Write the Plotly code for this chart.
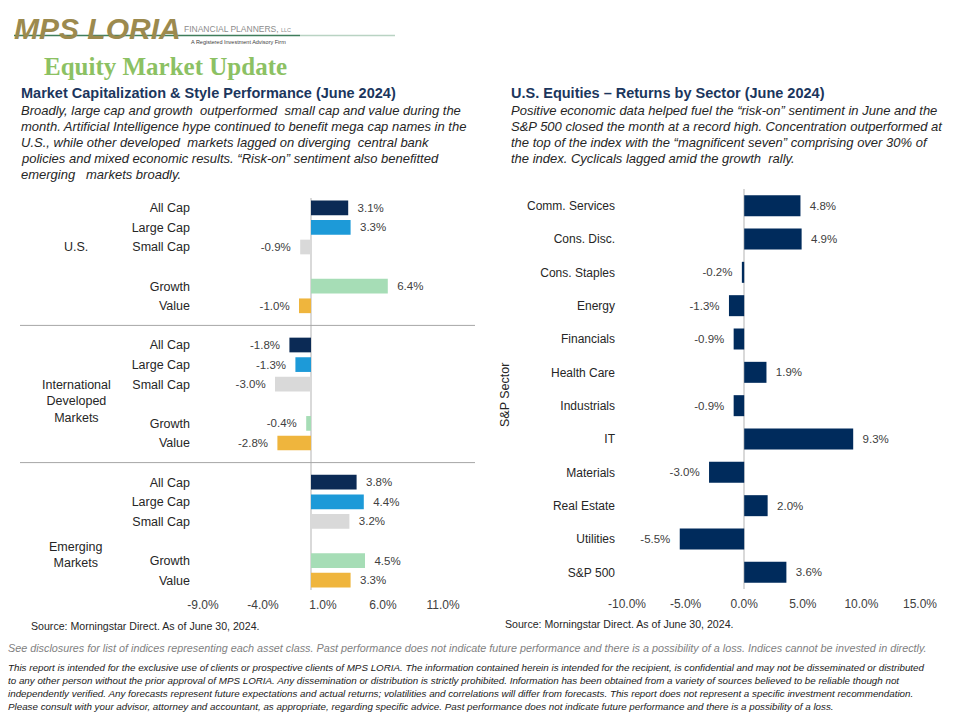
import plotly.graph_objects as go

W, H = 960, 720

# ---------------- Data: left chart ----------------
group_keys = ["US", "INTL", "EM"]
group_labels = ["U.S.", "International<br>Developed<br>Markets", "Emerging<br>Markets"]
styles = ["All Cap", "Large Cap", "Small Cap", "Growth", "Value"]
us_returns = [3.1, 3.3, -0.9, 6.4, -1.0]
intl_returns = [-1.8, -1.3, -3.0, -0.4, -2.8]
em_returns = [3.8, 4.4, 3.2, 4.5, 3.3]
left_ticks = [-9.0, -4.0, 1.0, 6.0, 11.0]

# ---------------- Data: right chart ----------------
sectors = ["Comm. Services", "Cons. Disc.", "Cons. Staples", "Energy", "Financials",
           "Health Care", "Industrials", "IT", "Materials", "Real Estate",
           "Utilities", "S&P 500"]
sector_returns = [4.8, 4.9, -0.2, -1.3, -0.9, 1.9, -0.9, 9.3, -3.0, 2.0, -5.5, 3.6]
right_ticks = [-10.0, -5.0, 0.0, 5.0, 10.0, 15.0]

# ---------------- Styles ----------------
style_colors = {
    "All Cap": "#0B2A55",
    "Large Cap": "#1D9AD8",
    "Small Cap": "#D9D9D9",
    "Growth": "#A6DDB6",
    "Value": "#EFB53D",
}
NAVY = "#002B5C"
HEAD = "#1B365D"
FONT = "Liberation Sans, Arial, sans-serif"


def px(x):
    return x / W


def py(y):
    return 1 - y / H


def lab(v):
    s = f"{v:.1f}%"
    return ("\u00a0\u00a0" + s) if v >= 0 else (s + "\u00a0\u00a0")


# category order for left chart (with blank slots)
cat_order = []
for gi, gk in enumerate(group_keys):
    if gi > 0:
        cat_order.append(f"{gk}|sep")
    for s in styles[:3]:
        cat_order.append(f"{gk}|{s}")
    cat_order.append(f"{gk}|gap")
    for s in styles[3:]:
        cat_order.append(f"{gk}|{s}")
cat_text = ["" if c.endswith("|gap") or c.endswith("|sep") else c.split("|")[1] for c in cat_order]

group_values = {"US": us_returns, "INTL": intl_returns, "EM": em_returns}

fig = go.Figure()

for si, s in enumerate(styles):
    xs = [group_values[gk][si] for gk in group_keys]
    ys = [f"{gk}|{s}" for gk in group_keys]
    fig.add_trace(go.Bar(
        x=xs, y=ys, orientation="h", xaxis="x", yaxis="y",
        marker=dict(color=style_colors[s], line=dict(width=0)),
        width=0.75,
        text=[lab(v) for v in xs], textposition="outside",
        textfont=dict(family=FONT, size=11.5, color="#404040"),
        constraintext="none", cliponaxis=False, hoverinfo="skip",
    ))

fig.add_trace(go.Bar(
    x=sector_returns, y=sectors, orientation="h", xaxis="x2", yaxis="y2",
    marker=dict(color=NAVY, line=dict(width=0)),
    width=0.63,
    text=[lab(v) for v in sector_returns], textposition="outside",
    textfont=dict(family=FONT, size=11.5, color="#404040"),
    constraintext="none", cliponaxis=False, hoverinfo="skip",
))

n_left = len(cat_order)
fig.update_layout(
    template="none",
    width=W, height=H,
    margin=dict(l=0, r=0, t=0, b=0, autoexpand=False),
    paper_bgcolor="white", plot_bgcolor="white",
    showlegend=False, barmode="overlay",
    font=dict(family=FONT, size=12, color="#262626"),
    xaxis=dict(
        domain=[px(203), px(443)], range=[left_ticks[0], left_ticks[-1]],
        tickmode="array", tickvals=left_ticks, ticktext=[f"{t:.1f}%" for t in left_ticks],
        showgrid=False, showline=False, ticks="", automargin=False,
        zeroline=True, zerolinecolor="#D9D9D9", zerolinewidth=1.5,
        tickfont=dict(family=FONT, size=12, color="#404040"),
        ticklabelstandoff=6, anchor="y", fixedrange=True,
    ),
    yaxis=dict(
        domain=[py(590), py(198)], type="category",
        categoryorder="array", categoryarray=cat_order,
        range=[n_left - 0.5, -0.5], automargin=False,
        tickmode="array", tickvals=cat_order, ticktext=cat_text,
        showgrid=False, showline=False, ticks="", zeroline=False,
        tickfont=dict(family=FONT, size=12.5, color="#262626"),
        ticklabelstandoff=12, anchor="x", fixedrange=True,
    ),
    xaxis2=dict(
        domain=[px(627), px(920)], range=[right_ticks[0], right_ticks[-1]],
        tickmode="array", tickvals=right_ticks, ticktext=[f"{t:.1f}%" for t in right_ticks],
        showgrid=False, showline=False, ticks="", automargin=False,
        zeroline=True, zerolinecolor="#D9D9D9", zerolinewidth=1.5,
        tickfont=dict(family=FONT, size=12, color="#404040"),
        ticklabelstandoff=6, anchor="y2", fixedrange=True,
    ),
    yaxis2=dict(
        domain=[py(589), py(189)], type="category",
        categoryorder="array", categoryarray=sectors,
        range=[len(sectors) - 0.5, -0.5], automargin=False,
        showgrid=False, showline=False, ticks="", zeroline=False,
        tickfont=dict(family=FONT, size=12, color="#262626"),
        ticklabelstandoff=11, anchor="x2", fixedrange=True,
    ),
)

# group separators on left chart
for gk in group_keys[1:]:
    idx = cat_order.index(f"{gk}|sep")
    fig.add_shape(type="line", xref="paper", yref="y",
                  x0=px(20), x1=px(475), y0=idx, y1=idx,
                  line=dict(color="#A6A6A6", width=1))

annotations = []

# group labels
group_anchor = {"US": ("US|Small Cap", 0), "INTL": ("INTL|gap", 2.5), "EM": ("EM|gap", -13.5)}
for gk, gl in zip(group_keys, group_labels):
    cat, shift = group_anchor[gk]
    annotations.append(dict(
        x=px(76), xref="paper", y=cat_order.index(cat), yref="y", yshift=shift,
        text=gl, showarrow=False, xanchor="center", yanchor="middle", align="center",
        font=dict(family=FONT, size=12.5, color="#262626"),
    ))

# right y-axis title
annotations.append(dict(
    x=px(505), y=py(395), xref="paper", yref="paper", text="S&P Sector",
    textangle=-90, showarrow=False, xanchor="center", yanchor="middle",
    font=dict(family=FONT, size=12.5, color="#262626"),
))

# logo
annotations.append(dict(
    x=px(12), y=py(29), xref="paper", yref="paper", text="<b><i>MPS LORIA</i></b>",
    showarrow=False, xanchor="left", yanchor="middle",
    font=dict(family=FONT, size=30, color="#9C8A4E"),
))
annotations.append(dict(
    x=px(182), y=py(29), xref="paper", yref="paper",
    text="FINANCIAL PLANNERS, <span style='font-size:5.5px'>LLC</span>",
    showarrow=False, xanchor="left", yanchor="middle",
    font=dict(family=FONT, size=8.5, color="#8C8C8C"),
))
annotations.append(dict(
    x=px(189), y=py(42), xref="paper", yref="paper",
    text="A Registered Investment Advisory Firm",
    showarrow=False, xanchor="left", yanchor="middle",
    font=dict(family=FONT, size=5.5, color="#404040"),
))
fig.add_shape(type="line", xref="paper", yref="paper",
              x0=px(14), x1=px(300), y0=py(35.5), y1=py(35.5),
              line=dict(color="#3F7D5B", width=1.5))
fig.add_shape(type="line", xref="paper", yref="paper",
              x0=px(300), x1=px(395), y0=py(35.5), y1=py(35.5),
              line=dict(color="#B9D3C3", width=1.5))

annotations.append(dict(
    x=px(42), y=py(66), xref="paper", yref="paper", text="<b>Equity Market Update</b>",
    showarrow=False, xanchor="left", yanchor="middle",
    font=dict(family="Liberation Serif, Times New Roman, serif", size=25, color="#8CC163"),
))

# headings
annotations.append(dict(
    x=px(19), y=py(93), xref="paper", yref="paper",
    text="<b>Market Capitalization & Style Performance (June 2024)</b>",
    showarrow=False, xanchor="left", yanchor="middle",
    font=dict(family=FONT, size=14.5, color=HEAD),
))
annotations.append(dict(
    x=px(509), y=py(93), xref="paper", yref="paper",
    text="<b>U.S. Equities \u2013 Returns by Sector (June 2024)</b>",
    showarrow=False, xanchor="left", yanchor="middle",
    font=dict(family=FONT, size=14.5, color=HEAD),
))

left_para = [
    "Broadly, large cap and growth  outperformed  small cap and value during the",
    "month. Artificial Intelligence hype continued to benefit mega cap names in the",
    "U.S., while other developed  markets lagged on diverging  central bank",
    "policies and mixed economic results. \u201cRisk-on\u201d sentiment also benefitted",
    "emerging   markets broadly.",
]
right_para = [
    "Positive economic data helped fuel the \u201crisk-on\u201d sentiment in June and the",
    "S&P 500 closed the month at a record high. Concentration outperformed at",
    "the top of the index with the \u201cmagnificent seven\u201d comprising over 30% of",
    "the index. Cyclicals lagged amid the growth  rally.",
]
for i, line in enumerate(left_para):
    annotations.append(dict(
        x=px(19), y=py(110 + i * 16.2), xref="paper", yref="paper",
        text=f"<i>{line}</i>", showarrow=False, xanchor="left", yanchor="middle",
        font=dict(family=FONT, size=13, color="#262626"),
    ))
for i, line in enumerate(right_para):
    annotations.append(dict(
        x=px(509), y=py(110 + i * 16.3), xref="paper", yref="paper",
        text=f"<i>{line}</i>", showarrow=False, xanchor="left", yanchor="middle",
        font=dict(family=FONT, size=13, color="#262626"),
    ))

# sources
annotations.append(dict(
    x=px(29), y=py(626), xref="paper", yref="paper",
    text="Source: Morningstar Direct. As of June 30, 2024.",
    showarrow=False, xanchor="left", yanchor="middle",
    font=dict(family=FONT, size=10.6, color="#262626"),
))
annotations.append(dict(
    x=px(503), y=py(624), xref="paper", yref="paper",
    text="Source: Morningstar Direct. As of June 30, 2024.",
    showarrow=False, xanchor="left", yanchor="middle",
    font=dict(family=FONT, size=10.6, color="#262626"),
))

# disclaimers
annotations.append(dict(
    x=px(6), y=py(648), xref="paper", yref="paper",
    text="<i>See disclosures for list of indices representing each asset class. Past performance does not indicate future performance and there is a possibility of a loss. Indices cannot be invested in directly.</i>",
    showarrow=False, xanchor="left", yanchor="middle",
    font=dict(family=FONT, size=10.8, color="#7F7F7F"),
))
disc_lines = [
    "This report is intended for the exclusive use of clients or prospective clients of MPS LORIA. The information contained herein is intended for the recipient, is confidential and may not be disseminated or distributed",
    "to any other person without the prior approval of MPS LORIA. Any dissemination or distribution is strictly prohibited. Information has been obtained from a variety of sources believed to be reliable though not",
    "independently verified. Any forecasts represent future expectations and actual returns; volatilities and correlations will differ from forecasts. This report does not represent a specific investment recommendation.",
    "Please consult with your advisor, attorney and accountant, as appropriate, regarding specific advice. Past performance does not indicate future performance and there is a possibility of a loss.",
]
for i, line in enumerate(disc_lines):
    annotations.append(dict(
        x=px(6), y=py(667 + i * 13), xref="paper", yref="paper",
        text=f"<i>{line}</i>", showarrow=False, xanchor="left", yanchor="middle",
        font=dict(family=FONT, size=9.8, color="#1A1A1A"),
    ))

fig.update_layout(annotations=annotations)

fig.write_html("out.html", config={"displayModeBar": False},
               post_script="document.body.style.margin='0';")
